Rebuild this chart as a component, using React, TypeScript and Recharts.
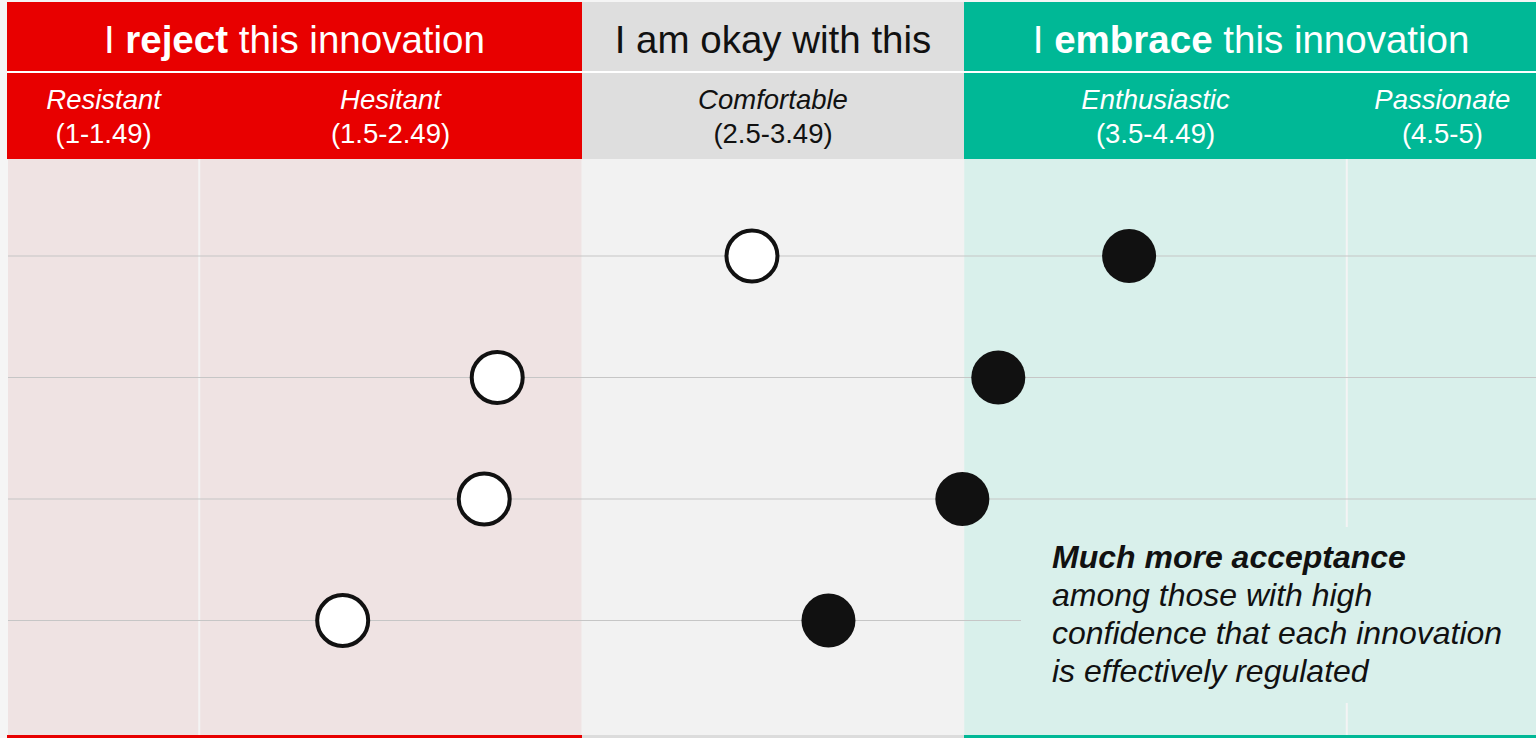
import { ScatterChart, Scatter, XAxis, YAxis, ReferenceArea, ReferenceLine } from "recharts";

// rows = innovations, top to bottom
const rows = [1, 2, 3, 4];
// open circles and filled circles (mean acceptance score, 1-5)
const lowConfidence = [2.945, 2.279, 2.245, 1.875];
const highConfidence = [3.931, 3.589, 3.495, 3.145];

const bandNames = ["Resistant", "Hesitant", "Comfortable", "Enthusiastic", "Passionate"];
const bandRanges = ["(1-1.49)", "(1.5-2.49)", "(2.5-3.49)", "(3.5-4.49)", "(4.5-5)"];
const bandEdges = [1, 1.5, 2.5, 3.5, 4.5, 5];

const groupPre = ["I ", "I am okay with this", "I "];
const groupBold = ["reject", "", "embrace"];
const groupPost = [" this innovation", "", " this innovation"];
const groupEdges = [1, 2.5, 3.5, 5];

const headFill = ["#e80000", "#dedede", "#00b896"];
const headText = ["#ffffff", "#111111", "#ffffff"];
const plotFill = ["#efe3e3", "#f2f2f2", "#d9f0eb"];
const baseLine = ["#e80000", "#dcdcdc", "#00b896"];

const W = 1538;
const X0 = 8;
const UNIT = (W - X0) / 4;
const px = (v: number) => X0 + (v - 1) * UNIT;

const PLOT_TOP = 159;
const PLOT_H = 576;
const FIRST_ROW = 97;
const ROW_STEP = 121.5;
const Y_MIN = 1 - FIRST_ROW / ROW_STEP;
const Y_MAX = 1 + (PLOT_H - FIRST_ROW) / ROW_STEP;

const FONT = '"Liberation Sans", Arial, sans-serif';

const lowData = rows.map((r, i) => ({ x: lowConfidence[i], y: r }));
const highData = rows.map((r, i) => ({ x: highConfidence[i], y: r }));

const groupOf = (v: number) => (v < 2.5 ? 0 : v < 3.5 ? 1 : 2);

const OpenDot = (p: any) => (
  <circle cx={p.cx} cy={p.cy} r={25.5} fill="#ffffff" stroke="#111111" strokeWidth={4} />
);
const FilledDot = (p: any) => <circle cx={p.cx} cy={p.cy} r={27} fill="#111111" />;

export default function App() {
  return (
    <div
      style={{
        position: "relative",
        width: 1536,
        height: 738,
        overflow: "hidden",
        background: "#f5f5f5",
        fontFamily: FONT,
      }}
    >
      <style>{"body{margin:0}"}</style>

      {/* top header row */}
      {groupPre.map((pre, i) => {
        const left = i === 0 ? 7 : px(groupEdges[i]);
        const right = px(groupEdges[i + 1]);
        return (
          <div
            key={"g" + i}
            style={{
              position: "absolute",
              left,
              top: 2,
              width: right - left,
              height: 69,
              background: headFill[i],
            }}
          >
            <div
              style={{
                position: "absolute",
                left: 0,
                right: 0,
                top: 19,
                textAlign: "center",
                fontSize: 38.5,
                lineHeight: "38px",
                color: headText[i],
                whiteSpace: "pre",
              }}
            >
              {pre}
              {groupBold[i] && <b>{groupBold[i]}</b>}
              {groupPost[i]}
            </div>
          </div>
        );
      })}
      <div style={{ position: "absolute", left: 7, top: 71, width: 1536, height: 2, background: "#ffffff" }} />

      {/* second header row */}
      {groupPre.map((_, i) => {
        const left = i === 0 ? 7 : px(groupEdges[i]);
        const right = px(groupEdges[i + 1]);
        return (
          <div
            key={"h" + i}
            style={{ position: "absolute", left, top: 73, width: right - left, height: 86, background: headFill[i] }}
          />
        );
      })}
      {bandNames.map((name, i) => {
        const left = px(bandEdges[i]);
        const right = px(bandEdges[i + 1]);
        const g = groupOf((bandEdges[i] + bandEdges[i + 1]) / 2);
        return (
          <div
            key={"b" + i}
            style={{
              position: "absolute",
              left,
              top: 83,
              width: right - left,
              textAlign: "center",
              fontSize: 27.5,
              lineHeight: "34px",
              color: headText[g],
            }}
          >
            <div style={{ fontStyle: "italic" }}>{name}</div>
            <div>{bandRanges[i]}</div>
          </div>
        );
      })}

      {/* plot */}
      <div style={{ position: "absolute", left: 0, top: PLOT_TOP }}>
        <ScatterChart width={W} height={PLOT_H} margin={{ top: 0, right: 0, bottom: 0, left: X0 }}>
          <XAxis type="number" dataKey="x" domain={[1, 5]} allowDataOverflow hide />
          <YAxis
            type="number"
            dataKey="y"
            domain={[Y_MIN, Y_MAX]}
            ticks={rows}
            reversed
            allowDataOverflow
            hide
          />
          {groupPre.map((_, i) => (
            <ReferenceArea
              key={"a" + i}
              x1={groupEdges[i]}
              x2={groupEdges[i + 1]}
              fill={plotFill[i]}
              fillOpacity={1}
              stroke="none"
            />
          ))}
          <ReferenceLine x={1.5} stroke="#f4f4f4" strokeWidth={2} />
          <ReferenceLine x={4.5} stroke="#f4f4f4" strokeWidth={2} />
          {rows.map((r) => (
            <ReferenceLine key={"r" + r} y={r} stroke="#c6c6c6" strokeWidth={1.2} />
          ))}
          <Scatter data={lowData} shape={OpenDot} isAnimationActive={false} />
          <Scatter data={highData} shape={FilledDot} isAnimationActive={false} />
        </ScatterChart>
      </div>

      {/* bottom coloured rule */}
      {groupPre.map((_, i) => {
        const left = i === 0 ? 7 : px(groupEdges[i]);
        const right = px(groupEdges[i + 1]);
        return (
          <div
            key={"l" + i}
            style={{ position: "absolute", left, top: 735, width: right - left, height: 3, background: baseLine[i] }}
          />
        );
      })}

      {/* annotation */}
      <div
        style={{
          position: "absolute",
          left: 1021,
          top: 527,
          width: 520,
          height: 176,
          background: plotFill[2],
        }}
      >
        <div
          style={{
            position: "absolute",
            left: 31,
            top: 11,
            fontSize: 32,
            lineHeight: "38px",
            fontStyle: "italic",
            color: "#111111",
            whiteSpace: "nowrap",
          }}
        >
          <div style={{ fontWeight: "bold" }}>Much more acceptance</div>
          <div>among those with high</div>
          <div>confidence that each innovation</div>
          <div>is effectively regulated</div>
        </div>
      </div>
    </div>
  );
}
